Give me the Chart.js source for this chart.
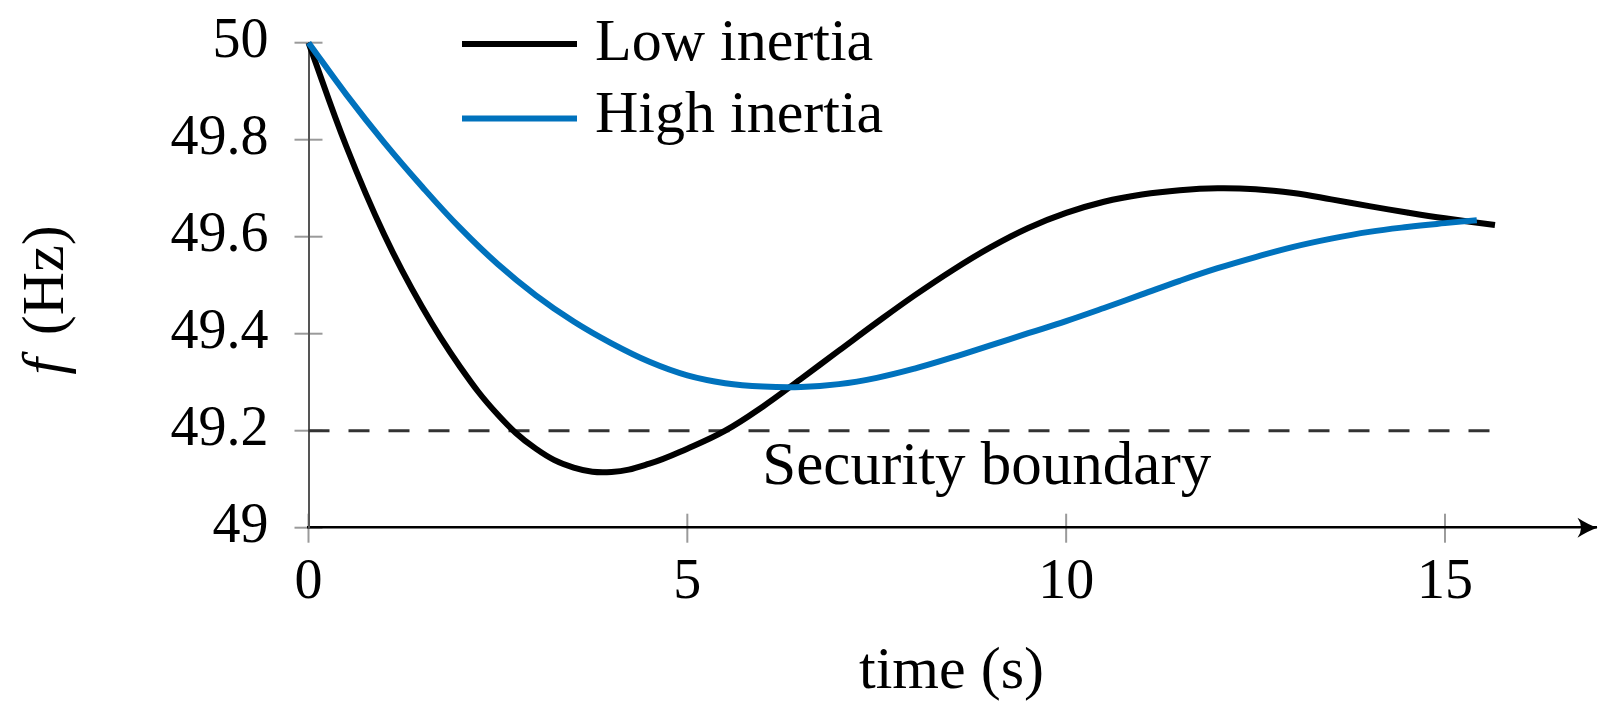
<!DOCTYPE html>
<html><head><meta charset="utf-8">
<script src="https://cdn.jsdelivr.net/npm/chart.js@4.4.1/dist/chart.umd.min.js"></script>
<style>html,body{margin:0;padding:0;background:#fff}#wrap{position:relative;width:1615px;height:713px}</style>
</head><body><div id="wrap"><canvas id="c"></canvas></div>
<script>
// ---- data ----
const lowTime  = [0, 0.5, 1, 1.5, 2, 2.5, 3, 3.5, 4, 4.5, 5, 5.5, 6, 6.5, 7, 7.5, 8, 8.5, 9, 9.5, 10, 10.5, 11, 11.5, 12, 12.5, 13, 13.5, 14, 14.5, 15, 15.66];
const lowFreq  = [50, 49.786, 49.604, 49.455, 49.332, 49.233, 49.163, 49.124, 49.115, 49.132, 49.163, 49.2, 49.25, 49.307, 49.365, 49.423, 49.479, 49.531, 49.578, 49.618, 49.649, 49.672, 49.687, 49.696, 49.70, 49.698, 49.69, 49.677, 49.663, 49.65, 49.638, 49.624];
const highTime = [0, 0.5, 1, 1.5, 2, 2.5, 3, 3.5, 4, 4.5, 5, 5.5, 6, 6.5, 7, 7.5, 8, 8.5, 9, 9.5, 10, 10.5, 11, 11.5, 12, 12.5, 13, 13.5, 14, 14.5, 15, 15.42];
const highFreq = [50, 49.893, 49.794, 49.703, 49.618, 49.543, 49.479, 49.425, 49.38, 49.342, 49.314, 49.298, 49.291, 49.29, 49.296, 49.309, 49.328, 49.351, 49.376, 49.401, 49.426, 49.453, 49.481, 49.509, 49.535, 49.558, 49.579, 49.596, 49.61, 49.62, 49.628, 49.634];
const boundaryTime = [0, 15.78];
const boundaryFreq = [49.2, 49.2];
const boundaryLabel = 'Security boundary';
const boundaryLabelX = 5.99;
const xTicks = [0, 5, 10, 15];
const xTickLabels = ['0', '5', '10', '15'];
const yTicks = [49, 49.2, 49.4, 49.6, 49.8, 50];
const yTickLabels = ['49', '49.2', '49.4', '49.6', '49.8', '50'];
const seriesLabels = ['Low inertia', 'High inertia'];
const xTitle = 'time (s)';
const yTitleVar = 'f';
const yTitleUnit = ' (Hz)';

const FONT = '"Liberation Serif", "Times New Roman", serif';
const pts = (xs, ys) => xs.map((t, i) => ({x: t, y: ys[i]}));

const deco = {
  id: 'deco',
  beforeDraw(chart) {
    const {ctx, chartArea: a, scales: {x, y}} = chart;
    ctx.save();
    ctx.strokeStyle = '#9a9a9a';
    ctx.lineWidth = 2;
    yTicks.forEach(v => {
      const py = y.getPixelForValue(v);
      ctx.beginPath(); ctx.moveTo(a.left - 14, py); ctx.lineTo(a.left + 14, py); ctx.stroke();
    });
    xTicks.forEach(v => {
      const px = x.getPixelForValue(v);
      ctx.beginPath(); ctx.moveTo(px, a.bottom - 14); ctx.lineTo(px, a.bottom + 15); ctx.stroke();
    });
    ctx.restore();
  },
  afterDraw(chart) {
    const {ctx, chartArea: a, scales: {x, y}} = chart;
    ctx.save();
    // arrow head on x axis
    const tipX = a.right + 1, cy = a.bottom;
    ctx.fillStyle = '#000';
    ctx.beginPath();
    ctx.moveTo(tipX, cy);
    ctx.quadraticCurveTo(tipX - 9, cy - 3, tipX - 20, cy - 10);
    ctx.quadraticCurveTo(tipX - 13, cy, tipX - 20, cy + 10);
    ctx.quadraticCurveTo(tipX - 9, cy + 3, tipX, cy);
    ctx.fill();

    // legend
    const ds = chart.data.datasets;
    const rows = [ {ds: ds[0], ly: 44, ty: 60}, {ds: ds[1], ly: 118.5, ty: 132} ];
    ctx.font = '60px ' + FONT;
    ctx.textAlign = 'left';
    ctx.textBaseline = 'alphabetic';
    rows.forEach(r => {
      ctx.strokeStyle = r.ds.borderColor;
      ctx.lineWidth = 6;
      ctx.beginPath(); ctx.moveTo(462, r.ly); ctx.lineTo(577, r.ly); ctx.stroke();
      ctx.fillStyle = '#000';
      ctx.fillText(r.ds.label, 595, r.ty);
    });

    // security boundary label
    ctx.fillStyle = '#000';
    ctx.font = '61px ' + FONT;
    ctx.fillText(boundaryLabel, x.getPixelForValue(boundaryLabelX), y.getPixelForValue(49.2) + 53);

    // x title
    ctx.font = '60px ' + FONT;
    ctx.textAlign = 'center';
    ctx.fillText(xTitle, (a.left + a.right) / 2 - 1, a.bottom + 160);

    // y title (rotated)
    ctx.translate(63, 300);
    ctx.rotate(-Math.PI / 2);
    ctx.textAlign = 'left';
    ctx.font = 'italic 60px ' + FONT;
    const wf = ctx.measureText(yTitleVar).width;
    ctx.font = '60px ' + FONT;
    const wr = ctx.measureText(yTitleUnit).width;
    const start = -(wf + wr + 8) / 2;
    ctx.font = 'italic 60px ' + FONT;
    ctx.fillText(yTitleVar, start, 0);
    ctx.font = '60px ' + FONT;
    ctx.fillText(yTitleUnit, start + wf + 8, 0);
    ctx.restore();
  }
};

new Chart(document.getElementById('c'), {
  type: 'line',
  data: {
    datasets: [
      {label: seriesLabels[0], data: pts(lowTime, lowFreq), borderColor: '#000000', borderWidth: 6,
       pointRadius: 0, tension: 0.4, fill: false, clip: false, order: 1},
      {label: seriesLabels[1], data: pts(highTime, highFreq), borderColor: '#0072BD', borderWidth: 6,
       pointRadius: 0, tension: 0.4, fill: false, clip: false, order: 0},
      {label: boundaryLabel, data: pts(boundaryTime, boundaryFreq), borderColor: '#333333', borderWidth: 3,
       borderDash: [21, 19], pointRadius: 0, fill: false, clip: false, order: 2}
    ]
  },
  options: {
    responsive: true, maintainAspectRatio: false, animation: false, devicePixelRatio: 1,
    events: [],
    layout: {padding: {left: 0, top: 42.7, right: 18.5, bottom: 0}},
    plugins: {legend: {display: false}, tooltip: {enabled: false}},
    scales: {
      x: {
        type: 'linear', min: 0, max: 17,
        afterFit(s) { s.height = 185.3; },
        afterBuildTicks(s) { s.ticks = xTicks.map(v => ({value: v})); },
        grid: {display: false, drawTicks: false},
        border: {display: true, color: '#000', width: 2.5},
        ticks: {font: {family: FONT, size: 56}, color: '#000', padding: 22, maxRotation: 0, autoSkip: false,
                callback: (v, i) => xTickLabels[i]}
      },
      y: {
        type: 'linear', min: 49, max: 50,
        afterFit(s) { s.width = 308.5; s.paddingTop = 0; s.paddingBottom = 0; },
        afterBuildTicks(s) { s.ticks = yTicks.map(v => ({value: v})); },
        grid: {display: false, drawTicks: false},
        border: {display: true, color: '#555', width: 2},
        ticks: {font: {family: FONT, size: 56}, color: '#000', padding: 40, autoSkip: false,
                callback: (v, i) => yTickLabels[i]}
      }
    }
  },
  plugins: [deco]
});
</script>
</body></html>
